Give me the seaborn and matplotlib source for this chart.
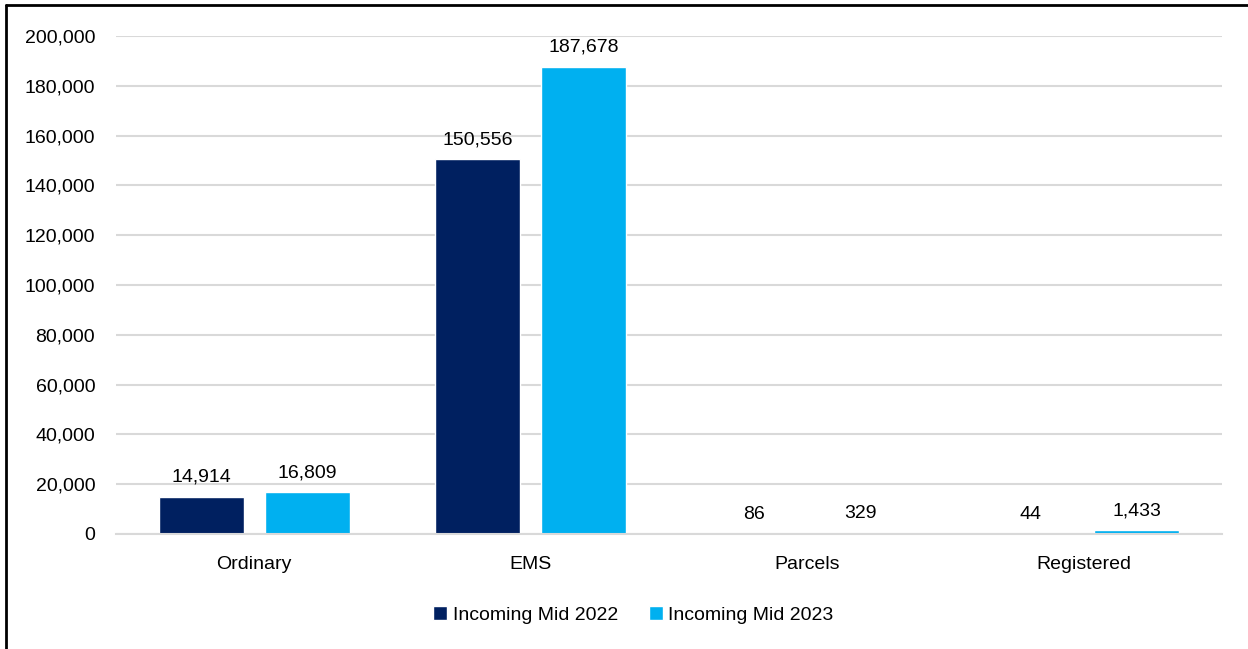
import matplotlib
matplotlib.use("Agg")
import matplotlib.pyplot as plt
import seaborn as sns
import pandas as pd
from matplotlib.lines import Line2D
from matplotlib.ticker import FuncFormatter

categories = ["Ordinary", "EMS", "Parcels", "Registered"]
series_names = ["Incoming Mid 2022", "Incoming Mid 2023"]
values_2022 = [14914, 150556, 86, 44]
values_2023 = [16809, 187678, 329, 1433]
colors = ["#002060", "#00B0F0"]

df = pd.DataFrame({
    "category": categories * 2,
    "series": [series_names[0]] * 4 + [series_names[1]] * 4,
    "value": values_2022 + values_2023,
})

sns.set_theme(style="white")
plt.rcParams['font.family'] = ['Liberation Sans', 'DejaVu Sans']
plt.rcParams['text.color'] = 'black'
fs = 14

fig = plt.figure(figsize=(12.48, 6.49), dpi=100)
ax = fig.add_axes([116/1248, 1-534/649, (1222-116)/1248, (534-36)/649])

sns.barplot(data=df, x="category", y="value", hue="series", palette=colors,
            width=0.767, gap=0.2, ax=ax, saturation=1, legend=True)

ax.set_ylim(0, 200000)
ax.set_yticks(range(0, 200001, 20000))
ax.yaxis.set_major_formatter(FuncFormatter(lambda v, p: f"{int(v):,}"))
ax.grid(axis="y", color="#D9D9D9", linewidth=1.5)
ax.set_axisbelow(True)
for s in ["top", "right", "left"]:
    ax.spines[s].set_visible(False)
ax.spines["bottom"].set_color("#D9D9D9")
ax.spines["bottom"].set_linewidth(1.5)
ax.tick_params(axis="both", length=0, labelsize=fs, colors="black")
ax.tick_params(axis="y", pad=15)
ax.tick_params(axis="x", pad=16)
ax.set_xlabel("")
ax.set_ylabel("")

for cont in ax.containers:
    labels = [f"{int(v):,}" for v in cont.datavalues]
    ax.bar_label(cont, labels=labels, padding=8, fontsize=fs, color="black")

leg = ax.legend(loc="center", bbox_to_anchor=(633.5/1248, 1-615/649),
                bbox_transform=fig.transFigure, ncol=2,
                frameon=False, fontsize=fs, handlelength=0.7, handleheight=0.7,
                handletextpad=0.3, columnspacing=1.6, labelcolor="black")

# outer frame (left and top edges)
fig.add_artist(Line2D([6/1248, 6/1248], [0, 1-5/649], color="black", lw=2, transform=fig.transFigure))
fig.add_artist(Line2D([6/1248, 1], [1-5/649, 1-5/649], color="black", lw=2, transform=fig.transFigure))

fig.savefig("out.png", dpi=100)
